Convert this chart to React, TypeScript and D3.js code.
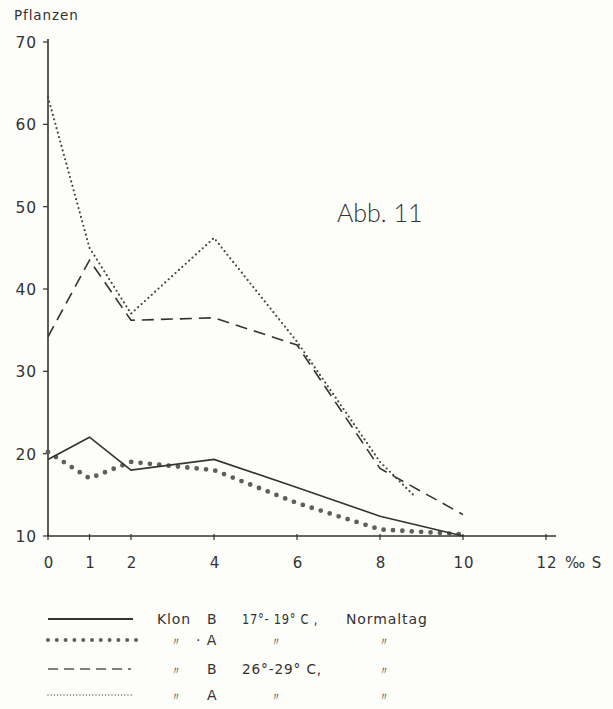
import React from "react";
import * as d3 from "d3";

// Salinity (‰ S) and plant counts per series
const salinity = [0, 1, 2, 4, 6, 8, 10];
const klonB17 = [19.3, 22.0, 18.0, 19.3, 15.9, 12.4, 10.0];
const klonA17 = [20.2, 17.0, 19.0, 18.0, 14.0, 10.8, 10.2];
const klonB26 = [34.2, 43.5, 36.2, 36.5, 33.2, 18.2, 12.6];
const salinityA26 = [0, 1, 2, 4, 6, 8, 8.8];
const klonA26 = [63.3, 45.0, 37.0, 46.2, 33.6, 19.0, 15.0];

const xTicks = [0, 1, 2, 4, 6, 8, 10, 12];
const yTicks = [10, 20, 30, 40, 50, 60, 70];

const W = 613;
const H = 709;
const INK = "#333333";
const FONT = "'DejaVu Sans', 'Noto Sans', sans-serif";

export default function App() {
  const x = d3.scaleLinear().domain([0, 12]).range([48, 546]);
  const y = d3.scaleLinear().domain([10, 70]).range([536, 42]);

  const line = (xs: number[], ys: number[]) =>
    d3
      .line<number>()
      .x((_, i) => x(xs[i]))
      .y((d) => y(d))(ys) as string;

  const styles: Record<string, any> = {
    solid: { stroke: INK, strokeWidth: 1.6 },
    bigdot: { stroke: "#5e5e5e", strokeWidth: 4.8, strokeDasharray: "0 9.4", strokeLinecap: "round" },
    dash: { stroke: INK, strokeWidth: 1.6, strokeDasharray: "12 7" },
    smalldot: { stroke: "#444", strokeWidth: 2.2, strokeDasharray: "0 4.6", strokeLinecap: "round" },
  };

  const legendStyles: Record<string, any> = {
    solid: { stroke: INK, strokeWidth: 1.8 },
    bigdot: { stroke: "#5e5e5e", strokeWidth: 4, strokeDasharray: "0 8.8", strokeLinecap: "round" },
    dash: { stroke: "#555", strokeWidth: 1.5, strokeDasharray: "10 6" },
    smalldot: { stroke: "#555", strokeWidth: 1.3, strokeDasharray: "0 3.2", strokeLinecap: "round" },
  };

  const legendRows = [
    { y: 619, style: "solid", x2: 133 },
    { y: 640, style: "bigdot", x2: 137 },
    { y: 669, style: "dash", x2: 131 },
    { y: 695, style: "smalldot", x2: 133 },
  ];

  const ditto = "〃";
  const textStyle = { letterSpacing: "0.9px" };
  const dittoProps = { fontSize: 12, fill: "#555", style: { letterSpacing: "0px" } };

  return (
    <svg
      width={W}
      height={H}
      style={{ position: "absolute", left: 0, top: 0, background: "#fdfdfa" }}
      fontFamily={FONT}
    >
      {/* axis title */}
      <text x={14} y={20} fontSize={13.5} fill={INK} style={textStyle}>
        Pflanzen
      </text>

      {/* y axis */}
      <line x1={x(0)} x2={x(0)} y1={y(10)} y2={y(70) - 3} stroke={INK} strokeWidth={1.6} />
      {yTicks.map((t) => (
        <g key={"y" + t}>
          <line x1={x(0) - 5} x2={x(0)} y1={y(t)} y2={y(t)} stroke={INK} strokeWidth={1.2} />
          <text x={x(0) - 11} y={y(t) + 6} textAnchor="end" fontSize={15.5} fill={INK} style={textStyle}>
            {t}
          </text>
        </g>
      ))}

      {/* x axis */}
      <line x1={x(0)} x2={556} y1={y(10)} y2={y(10)} stroke={INK} strokeWidth={1.6} />
      {xTicks.map((t) => (
        <g key={"x" + t}>
          <line x1={x(t)} x2={x(t)} y1={y(10) - 2} y2={y(10) + 4} stroke={INK} strokeWidth={1.2} />
          <text x={x(t) + 1} y={568} textAnchor="middle" fontSize={15} fill={INK} style={textStyle}>
            {t}
          </text>
        </g>
      ))}
      <text x={565} y={568} fontSize={15} fill={INK} style={textStyle}>
        ‰ S
      </text>

      {/* figure label */}
      <text x={337} y={222} fontSize={25} fill="#333" fontFamily="Lato, 'Open Sans', sans-serif" fontWeight={300}>
        Abb. 11
      </text>

      {/* series */}
      <path d={line(salinity, klonB26)} fill="none" {...styles.dash} />
      <path d={line(salinityA26, klonA26)} fill="none" {...styles.smalldot} />
      <path d={line(salinity, klonA17)} fill="none" {...styles.bigdot} />
      <path d={line(salinity, klonB17)} fill="none" {...styles.solid} />

      {/* legend */}
      {legendRows.map((r) => (
        <line key={r.style} x1={48} x2={r.x2} y1={r.y} y2={r.y} {...legendStyles[r.style]} />
      ))}
      <g fontSize={14} fill={INK} style={textStyle}>
        <text x={157} y={624}>Klon</text>
        <text x={207} y={624}>B</text>
        <text x={242} y={624} textLength={76} lengthAdjust="spacingAndGlyphs">17°- 19° C ,</text>
        <text x={346} y={624}>Normaltag</text>

        <text x={170} y={646} {...dittoProps}>{ditto}</text>
        <text x={196} y={645}>· A</text>
        <text x={270} y={646} {...dittoProps}>{ditto}</text>
        <text x={378} y={646} {...dittoProps}>{ditto}</text>

        <text x={170} y={675} {...dittoProps}>{ditto}</text>
        <text x={207} y={674}>B</text>
        <text x={242} y={674} textLength={80} lengthAdjust="spacingAndGlyphs">26°-29° C,</text>
        <text x={378} y={675} {...dittoProps}>{ditto}</text>

        <text x={170} y={701} {...dittoProps}>{ditto}</text>
        <text x={207} y={700}>A</text>
        <text x={270} y={701} {...dittoProps}>{ditto}</text>
        <text x={378} y={701} {...dittoProps}>{ditto}</text>
      </g>
    </svg>
  );
}
